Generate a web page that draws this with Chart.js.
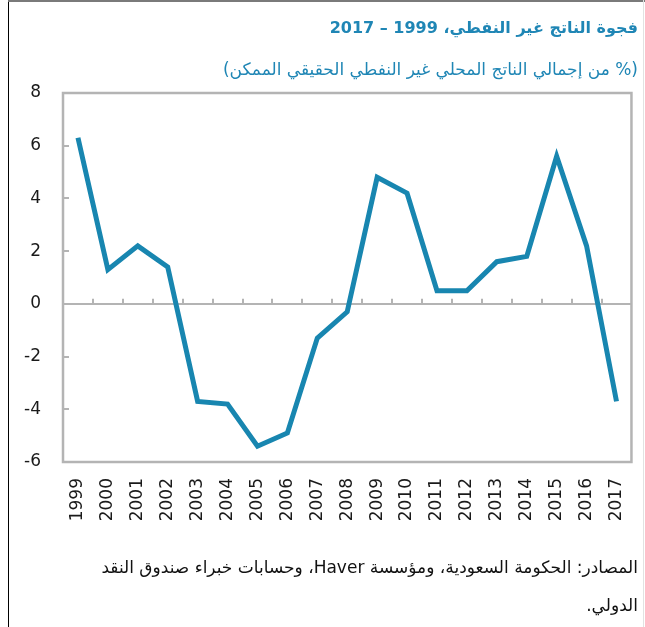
<!DOCTYPE html>
<html lang="ar">
<head>
<meta charset="utf-8">
<script src="https://cdn.jsdelivr.net/npm/chart.js@4/dist/chart.umd.min.js"></script>
<style>
  html, body { margin: 0; padding: 0; background: #fff; }
  #wrap { position: relative; width: 645px; height: 627px; overflow: hidden; }
  #chart { position: absolute; left: 0; top: 0; }
  .frame-left { position: absolute; left: 8px; top: 0; width: 1px; height: 627px; background: #000; }
  .frame-top { position: absolute; left: 8px; top: 0; width: 637px; height: 2px; background: #7a7a7a; }
  .frame-right { position: absolute; left: 643px; top: 0; width: 1px; height: 627px; background: #e2e2e2; }
  .txt { position: absolute; right: 7px; direction: rtl; white-space: nowrap; font-family: "DejaVu Sans", sans-serif; }
  #title { top: 18px; font-size: 16px; font-weight: bold; color: #1f86b5; }
  #subtitle { top: 59px; font-size: 17px; color: #1f86b5; }
  #source { top: 548px; font-size: 17px; color: #111; line-height: 38px; }
</style>
</head>
<body>
<div id="wrap">
  <canvas id="chart" width="645" height="627"></canvas>
  <div class="frame-left"></div>
  <div class="frame-top"></div>
  <div class="frame-right"></div>
  <div class="txt" id="title">فجوة الناتج غير النفطي، 1999 – 2017</div>
  <div class="txt" id="subtitle">(% من إجمالي الناتج المحلي غير النفطي الحقيقي الممكن)</div>
  <div class="txt" id="source">المصادر: الحكومة السعودية، ومؤسسة Haver، وحسابات خبراء صندوق النقد<br>الدولي.</div>
</div>
<script>
// years on the x axis, non-oil output gap in % of potential non-oil GDP
var years = ['1999', '2000', '2001', '2002', '2003', '2004', '2005', '2006', '2007', '2008',
             '2009', '2010', '2011', '2012', '2013', '2014', '2015', '2016', '2017'];
var gap = [6.3, 1.3, 2.2, 1.4, -3.7, -3.8, -5.4, -4.9, -1.3, -0.3,
           4.8, 4.2, 0.5, 0.5, 1.6, 1.8, 5.6, 2.2, -3.7];
var yMin = -6, yMax = 8, yStep = 2;

var LINE = '#1886b0';
var AXIS = '#b4b4b4';

// box round the plot, small inner ticks on the left and on the zero line
var framePlugin = {
  id: 'frame',
  beforeDatasetsDraw: function(chart) {
    var a = chart.chartArea, c = chart.ctx;
    var ys = chart.scales.y, xs = chart.scales.x;
    c.save();
    c.strokeStyle = AXIS;
    c.lineWidth = 2.5;
    c.strokeRect(a.left, a.top, a.right - a.left, a.bottom - a.top);
    c.lineWidth = 2;
    c.beginPath();
    ys.ticks.forEach(function(t) {
      if (t.value === yMin || t.value === yMax || t.value === 0) return;
      var y = Math.round(ys.getPixelForValue(t.value));
      c.moveTo(a.left, y); c.lineTo(a.left + 6, y);
    });
    var y0 = ys.getPixelForValue(0);
    for (var i = 0; i < years.length - 1; i++) {
      var x = Math.round((xs.getPixelForValue(i) + xs.getPixelForValue(i + 1)) / 2);
      c.moveTo(x, y0); c.lineTo(x, y0 - 5);
    }
    c.stroke();
    c.restore();
  }
};

new Chart(document.getElementById('chart'), {
  type: 'line',
  data: {
    labels: years,
    datasets: [{
      data: gap,
      borderColor: LINE,
      borderWidth: 5,
      pointRadius: 0,
      tension: 0,
      fill: false
    }]
  },
  options: {
    responsive: false,
    animation: false,
    layout: { padding: { top: 93, right: 4, left: 0, bottom: 0 } },
    plugins: { legend: { display: false }, tooltip: { enabled: false } },
    scales: {
      x: {
        offset: true,
        grid: { display: false },
        border: { display: false },
        ticks: {
          autoSkip: false, maxRotation: 90, minRotation: 90, padding: 8,
          color: '#1a1a1a', font: { family: 'DejaVu Sans', size: 17 }
        },
        afterFit: function(s) { s.height = 165; }
      },
      y: {
        min: yMin, max: yMax,
        grid: {
          drawTicks: false,
          lineWidth: 2,
          color: function(ctx) { return ctx.tick && ctx.tick.value === 0 ? AXIS : 'rgba(0,0,0,0)'; }
        },
        border: { display: false },
        ticks: {
          stepSize: yStep, padding: 22,
          color: '#1a1a1a', font: { family: 'DejaVu Sans', size: 17 }
        },
        afterFit: function(s) { s.width = 63; }
      }
    }
  },
  plugins: [framePlugin]
});
</script>
</body>
</html>
